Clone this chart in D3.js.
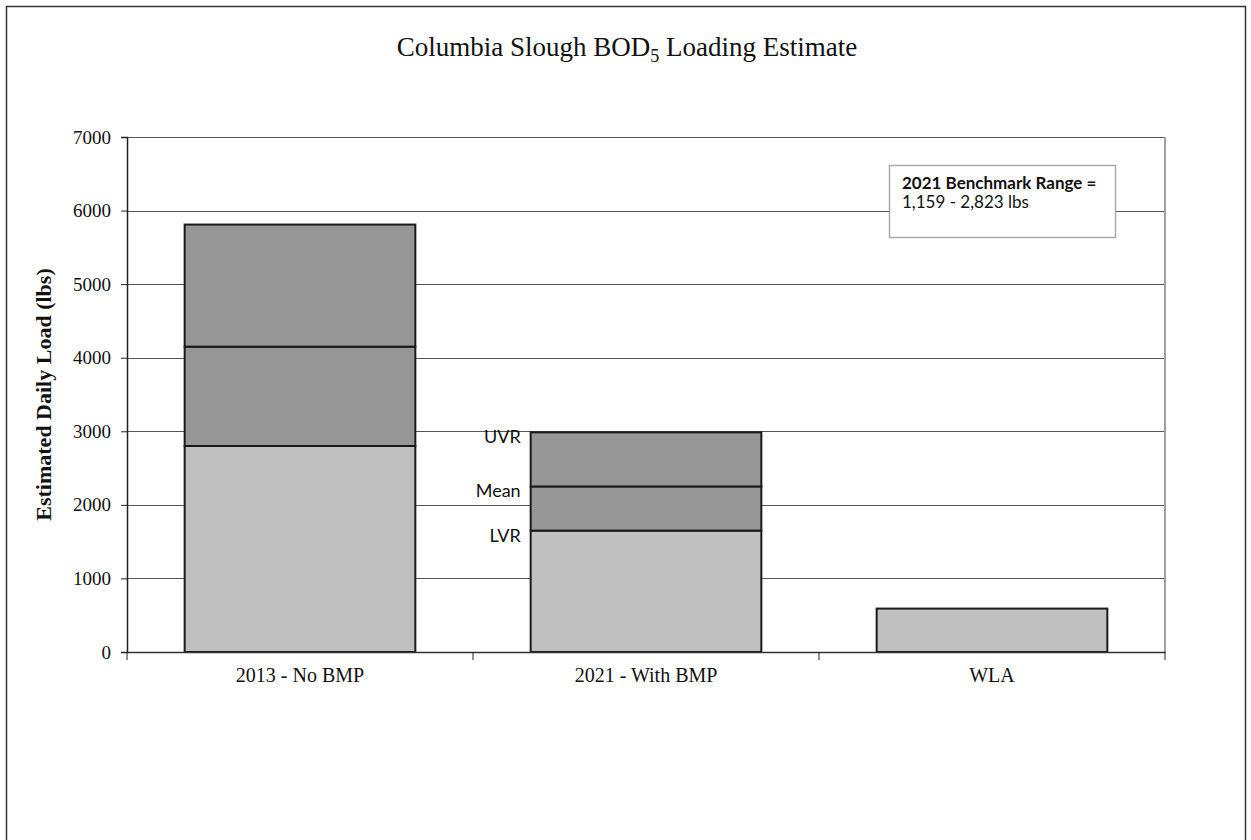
<!DOCTYPE html>
<html>
<head>
<meta charset="utf-8">
<script src="https://cdn.jsdelivr.net/npm/d3@7"></script>
<style>
  html, body { margin: 0; padding: 0; background: #fff; }
  svg { display: block; }
</style>
</head>
<body>
<svg id="chart" width="1251" height="840"></svg>
<script>
// Columbia Slough BOD5 daily loading, lbs
const categories = ["2013 - No BMP", "2021 - With BMP", "WLA"];
const lowerRange = [2800, 1650, 590];   // LVR
const meanLoad   = [4150, 2250, null];  // Mean
const upperRange = [5810, 2985, null];  // UVR
const yTicks = [0, 1000, 2000, 3000, 4000, 5000, 6000, 7000];
const rangeLabels = ["UVR", "Mean", "LVR"];
const benchmarkLines = ["2021 Benchmark Range =", "1,159 - 2,823 lbs"];

const svg = d3.select("#chart");

// Page frame
svg.append("rect")
  .attr("x", 6.5).attr("y", 6.5)
  .attr("width", 1239).attr("height", 900)
  .attr("fill", "none").attr("stroke", "#333").attr("stroke-width", 1.5);

const plot = { left: 127, right: 1165, top: 137, bottom: 652 };

const x = d3.scaleBand()
  .domain(categories)
  .range([plot.left, plot.right])
  .paddingInner(1 / 3)
  .paddingOuter(1 / 6);

const y = d3.scaleLinear()
  .domain([0, 7000])
  .range([plot.bottom, plot.top]);

const serif = "'Liberation Serif', 'Times New Roman', serif";
const sans = "Lato, 'Open Sans', sans-serif";

// Title
const title = svg.append("text")
  .attr("x", 627).attr("y", 56)
  .attr("text-anchor", "middle")
  .attr("font-family", serif)
  .attr("font-size", 27)
  .attr("fill", "#111");
title.append("tspan").text("Columbia Slough BOD");
title.append("tspan").attr("font-size", 18).attr("dy", 6).text("5");
title.append("tspan").attr("dy", -6).text(" Loading Estimate");

// Horizontal gridlines
svg.append("g")
  .selectAll("line")
  .data(yTicks.filter(d => d > 0))
  .join("line")
  .attr("x1", plot.left).attr("x2", plot.right)
  .attr("y1", d => Math.round(y(d)) + 0.5)
  .attr("y2", d => Math.round(y(d)) + 0.5)
  .attr("stroke", "#555").attr("stroke-width", 1);

// Right edge of the plot area
svg.append("line")
  .attr("x1", plot.right).attr("x2", plot.right)
  .attr("y1", plot.top).attr("y2", plot.bottom)
  .attr("stroke", "#a0a0a0").attr("stroke-width", 2);

// Stacked bars: LVR base, then LVR→Mean, then Mean→UVR
const segments = [];
categories.forEach((c, i) => {
  const bounds = [0, lowerRange[i], meanLoad[i], upperRange[i]].filter(v => v !== null);
  for (let k = 0; k < bounds.length - 1; k++) {
    segments.push({ cat: c, y0: bounds[k], y1: bounds[k + 1], layer: k });
  }
});

svg.append("g")
  .selectAll("rect")
  .data(segments)
  .join("rect")
  .attr("x", d => x(d.cat))
  .attr("width", x.bandwidth())
  .attr("y", d => y(d.y1))
  .attr("height", d => y(d.y0) - y(d.y1))
  .attr("fill", d => d.layer === 0 ? "#c0c0c0" : "#969696")
  .attr("stroke", "#1a1a1a")
  .attr("stroke-width", 2);

// Y axis
const yAxis = svg.append("g")
  .attr("transform", `translate(${plot.left},0)`)
  .call(d3.axisLeft(y).tickValues(yTicks).tickSize(6).tickPadding(10).tickFormat(d3.format("d")));
yAxis.select(".domain").attr("stroke", "#222").attr("stroke-width", 1.5);
yAxis.selectAll(".tick line").attr("stroke", "#222");
yAxis.selectAll(".tick text")
  .attr("font-family", serif)
  .attr("font-size", 19)
  .attr("fill", "#111");

// X axis
const xAxis = svg.append("g")
  .attr("transform", `translate(0,${plot.bottom})`)
  .call(d3.axisBottom(x).tickSize(0).tickPadding(16));
xAxis.select(".domain").attr("stroke", "#333").attr("stroke-width", 1.5);
xAxis.selectAll(".tick text")
  .attr("font-family", serif)
  .attr("font-size", 20)
  .attr("fill", "#111");

// Category divider ticks
const step = x.step();
svg.append("g")
  .selectAll("line")
  .data(d3.range(categories.length + 1))
  .join("line")
  .attr("x1", i => plot.left + i * step)
  .attr("x2", i => plot.left + i * step)
  .attr("y1", plot.bottom).attr("y2", plot.bottom + 8)
  .attr("stroke", "#222").attr("stroke-width", 1);

// Y axis title
svg.append("text")
  .attr("transform", `translate(51,${(plot.top + plot.bottom) / 2}) rotate(-90)`)
  .attr("text-anchor", "middle")
  .attr("font-family", serif)
  .attr("font-weight", "bold")
  .attr("font-size", 22)
  .attr("fill", "#111")
  .text("Estimated Daily Load (lbs)");

// Range labels beside the 2021 bar
const bar2 = categories[1];
const rangeValues = [upperRange[1], meanLoad[1], lowerRange[1]];
svg.append("g")
  .selectAll("text")
  .data(rangeLabels)
  .join("text")
  .attr("x", x(bar2) - 10)
  .attr("y", (d, i) => y(rangeValues[i]) + 11)
  .attr("text-anchor", "end")
  .attr("font-family", sans)
  .attr("font-size", 18)
  .attr("fill", "#111")
  .text(d => d);

// Benchmark note
const note = svg.append("g").attr("transform", "translate(889,165)");
note.append("rect")
  .attr("x", 0.5).attr("y", 0.5)
  .attr("width", 226).attr("height", 72)
  .attr("fill", "#fff").attr("stroke", "#aaa").attr("stroke-width", 1.5);
note.selectAll("text")
  .data(benchmarkLines)
  .join("text")
  .attr("x", 13)
  .attr("y", (d, i) => 24 + i * 19)
  .attr("font-family", sans)
  .attr("font-size", 17)
  .attr("font-weight", (d, i) => i === 0 ? "bold" : "normal")
  .attr("fill", "#111")
  .text(d => d);
</script>
</body>
</html>
